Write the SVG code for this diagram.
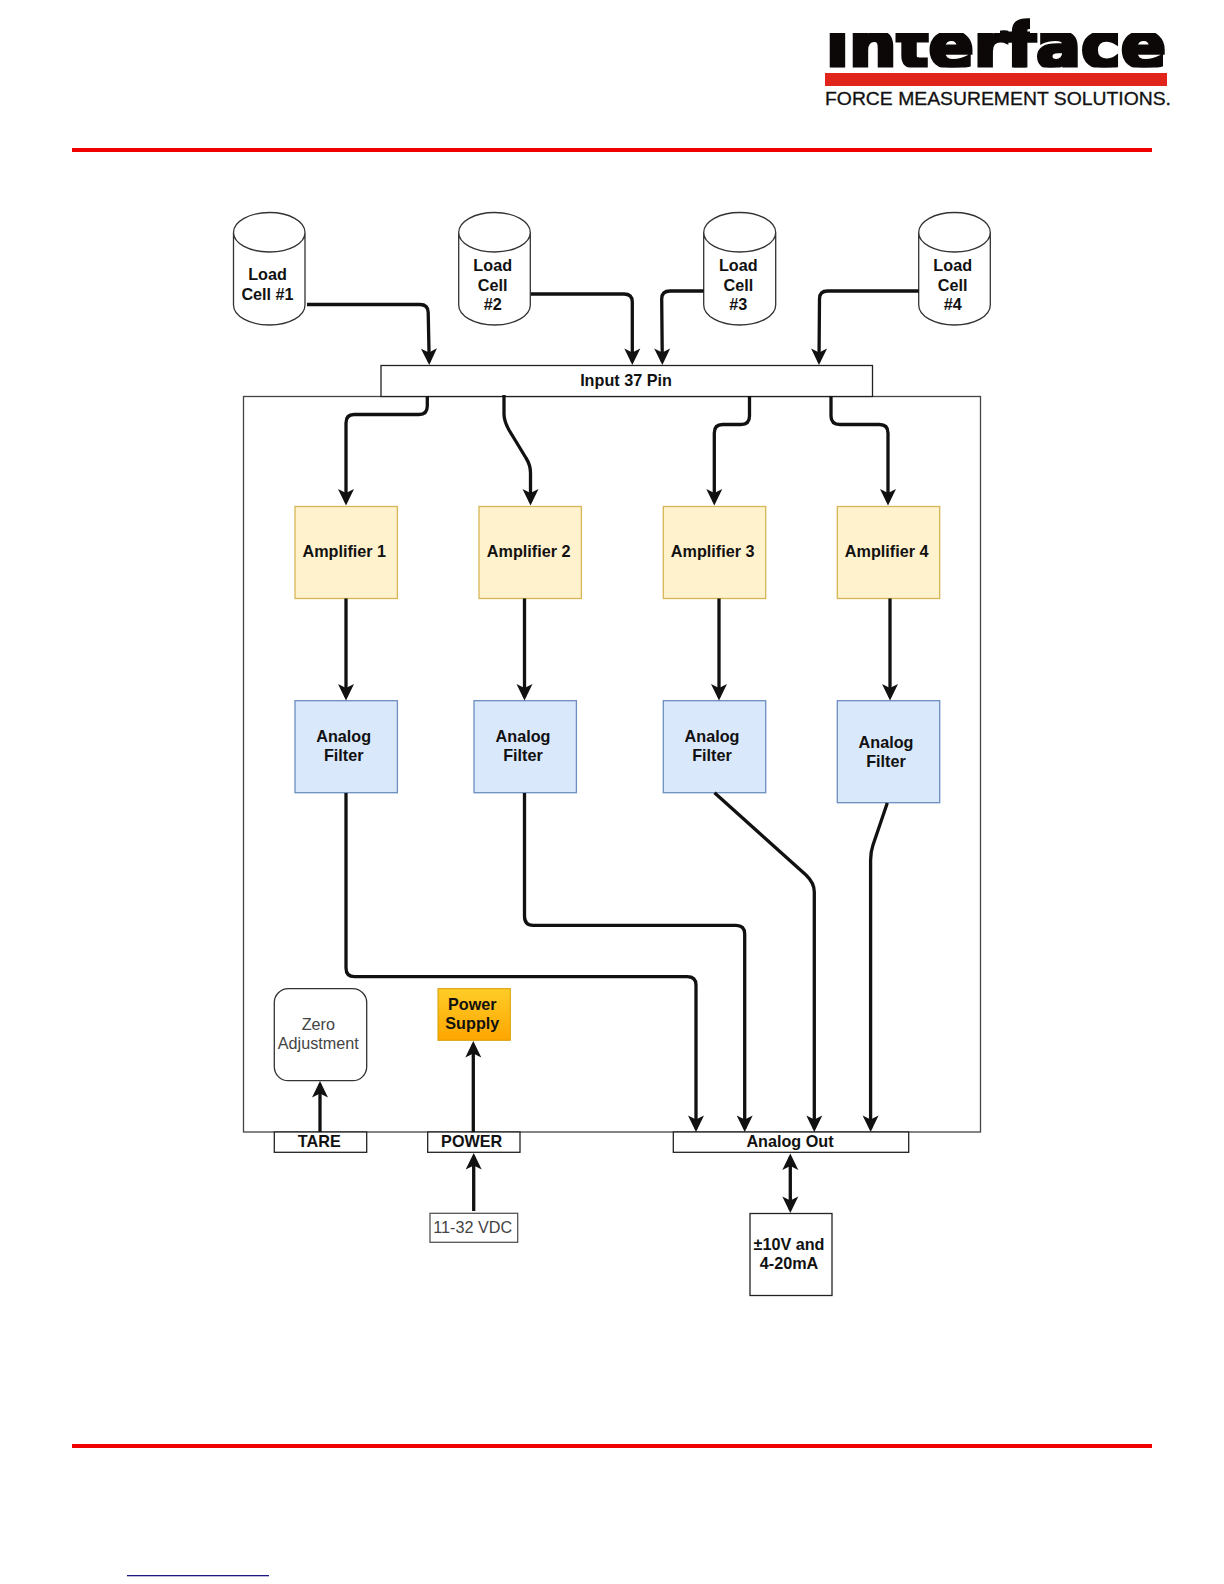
<svg xmlns="http://www.w3.org/2000/svg" width="1224" height="1584" viewBox="0 0 1224 1584">
<defs>
<marker id="arr" markerUnits="userSpaceOnUse" markerWidth="19" markerHeight="19" refX="13.5" refY="9" orient="auto-start-reverse"><path d="M0.5,1 L17,9 L0.5,17 L4.5,9 Z" fill="#111"/></marker>
<linearGradient id="ps" x1="0" y1="0" x2="0" y2="1"><stop offset="0" stop-color="#ffcd28"/><stop offset="1" stop-color="#ffa500"/></linearGradient>
<clipPath id="logoclip"><rect x="820" y="33" width="180" height="34.5"/><rect x="1000" y="18" width="30" height="49.5"/><rect x="1030" y="33" width="140" height="34.5"/></clipPath>
</defs>
<style>
text{font-family:"Liberation Sans",Arial,sans-serif;font-size:16.2px;font-weight:bold;fill:#111;text-anchor:middle}
.reg{font-weight:normal;fill:#444}
.box{fill:#fff;stroke:#222;stroke-width:1.3}
.amp{fill:#fff2cc;stroke:#d6b656;stroke-width:1.3}
.flt{fill:#dae8fc;stroke:#6c8ebf;stroke-width:1.3}
.cyl{fill:#fff;stroke:#333;stroke-width:1.3}
.c{fill:none;stroke:#111;stroke-width:3.3;marker-end:url(#arr)}
.rule{fill:#f10000}
</style>
<rect width="1224" height="1584" fill="#fff"/>
<g id="logo">
<text x="826" y="67" clip-path="url(#logoclip)" textLength="340" lengthAdjust="spacingAndGlyphs" style="font-family:'DejaVu Sans',sans-serif;font-size:62px;text-anchor:start;stroke:#0c0808;stroke-width:3.5;fill:#0c0808">interface</text>
<rect x="825" y="73" width="342" height="13" fill="#e1251b"/>
<text x="825" y="105" textLength="346" lengthAdjust="spacingAndGlyphs" style="font-size:18px;font-weight:normal;text-anchor:start;stroke:#111;stroke-width:0.3">FORCE MEASUREMENT SOLUTIONS.</text>
</g>
<rect class="rule" x="72" y="148" width="1080" height="4"/>
<rect class="rule" x="72" y="1444" width="1080" height="4"/>
<rect x="127" y="1575" width="142" height="1.3" fill="#1a1a80"/>
<g id="main-box"><rect x="243.5" y="396.5" width="737" height="735.5" fill="#fff" stroke="#444" stroke-width="1.3"/></g>
<g id="input-37-pin"><rect class="box" x="381" y="365.5" width="491.5" height="31"/><text x="626" y="385.7">Input 37 Pin</text></g>
<g id="load-cell-1"><path class="cyl" d="M233.5,232.5 C233.5,221.5 249.5,212.5 269.5,212.5 C289.5,212.5 305,221.5 305,232.5 L305,305 C305,316 289.5,325 269.5,325 C249.5,325 233.5,316 233.5,305 Z M233.5,232.5 C233.5,243.5 249.5,252 269.5,252 C289.5,252 305,243.5 305,232.5"/><text x="267.5" y="280.3">Load</text><text x="267.5" y="299.8">Cell #1</text></g>
<g id="load-cell-2"><path class="cyl" d="M458.7,232.5 C458.7,221.5 474.7,212.5 494.5,212.5 C514.5,212.5 530.3,221.5 530.3,232.5 L530.3,305 C530.3,316 514.5,325 494.5,325 C474.7,325 458.7,316 458.7,305 Z M458.7,232.5 C458.7,243.5 474.7,252 494.5,252 C514.5,252 530.3,243.5 530.3,232.5"/><text x="492.7" y="271.3">Load</text><text x="492.7" y="290.5">Cell</text><text x="492.7" y="309.5">#2</text></g>
<g id="load-cell-3"><path class="cyl" d="M703.7,232.5 C703.7,221.5 719.7,212.5 739.7,212.5 C759.7,212.5 775.7,221.5 775.7,232.5 L775.7,305 C775.7,316 759.7,325 739.7,325 C719.7,325 703.7,316 703.7,305 Z M703.7,232.5 C703.7,243.5 719.7,252 739.7,252 C759.7,252 775.7,243.5 775.7,232.5"/><text x="738.3" y="271.3">Load</text><text x="738.3" y="290.5">Cell</text><text x="738.3" y="309.5">#3</text></g>
<g id="load-cell-4"><path class="cyl" d="M918.7,232.5 C918.7,221.5 934.7,212.5 954.5,212.5 C974.5,212.5 990.3,221.5 990.3,232.5 L990.3,305 C990.3,316 974.5,325 954.5,325 C934.7,325 918.7,316 918.7,305 Z M918.7,232.5 C918.7,243.5 934.7,252 954.5,252 C974.5,252 990.3,243.5 990.3,232.5"/><text x="952.7" y="271.3">Load</text><text x="952.7" y="290.5">Cell</text><text x="952.7" y="309.5">#4</text></g>
<g id="amplifier-1"><rect class="amp" x="295" y="506.5" width="102.4" height="92"/><text x="344.3" y="557.3">Amplifier 1</text></g>
<g id="amplifier-2"><rect class="amp" x="479" y="506.5" width="102.4" height="92"/><text x="528.7" y="557.3">Amplifier 2</text></g>
<g id="amplifier-3"><rect class="amp" x="663.3" y="506.5" width="102.4" height="92"/><text x="712.7" y="557.3">Amplifier 3</text></g>
<g id="amplifier-4"><rect class="amp" x="837.3" y="506.5" width="102.4" height="92"/><text x="886.7" y="557.3">Amplifier 4</text></g>
<g id="filter-1"><rect class="flt" x="295" y="700.7" width="102.4" height="92"/><text x="343.7" y="742.4">Analog</text><text x="343.7" y="761.4">Filter</text></g>
<g id="filter-2"><rect class="flt" x="474" y="700.7" width="102.4" height="92"/><text x="523" y="742.4">Analog</text><text x="523" y="761.4">Filter</text></g>
<g id="filter-3"><rect class="flt" x="663.3" y="700.7" width="102.4" height="92"/><text x="712" y="742.4">Analog</text><text x="712" y="761.4">Filter</text></g>
<g id="filter-4"><rect class="flt" x="837.3" y="700.7" width="102.4" height="102"/><text x="886" y="747.5">Analog</text><text x="886" y="766.5">Filter</text></g>
<g id="zero-adjustment"><rect x="274.3" y="988.7" width="92.4" height="92" rx="14" fill="#fff" stroke="#333" stroke-width="1.3"/><text class="reg" x="318.3" y="1030">Zero</text><text class="reg" x="318.3" y="1049.3">Adjustment</text></g>
<g id="power-supply"><rect x="438" y="988.7" width="72.3" height="51.6" fill="url(#ps)" stroke="#d79b00" stroke-width="1"/><text x="472.3" y="1010">Power</text><text x="472.3" y="1029">Supply</text></g>
<g id="tare"><rect class="box" x="274.3" y="1132" width="92.4" height="20.3"/><text x="319.3" y="1146.5">TARE</text></g>
<g id="power"><rect class="box" x="427.7" y="1132" width="92.3" height="20.3"/><text x="471.7" y="1146.5">POWER</text></g>
<g id="analog-out"><rect class="box" x="673.3" y="1132" width="235.4" height="20.3"/><text x="790" y="1146.5">Analog Out</text></g>
<g id="vdc"><rect x="430" y="1213.3" width="87.7" height="29" fill="#fff" stroke="#555" stroke-width="1.3"/><text class="reg" x="472.7" y="1233">11-32 VDC</text></g>
<g id="output-range"><rect class="box" x="750" y="1213.5" width="82" height="82"/><text x="789" y="1250">±10V and</text><text x="789" y="1269.3">4-20mA</text></g>
<g id="connectors">
<path class="c" d="M307,304.5 H420 Q428,304.5 428.2,312.5 L429.2,361.5"/>
<path class="c" d="M531,294 H624 Q632.3,294 632.3,302 V361.5"/>
<path class="c" d="M703.7,291 H670 Q661.7,291 661.7,299 L662.3,361.5"/>
<path class="c" d="M918.7,291 H827.5 Q819.5,291 819.5,299 L819,361.5"/>
<path class="c" d="M427.3,396 V406 Q427.3,414.5 419,414.5 H354 Q346,414.5 346,423 V502"/>
<path class="c" d="M504,395 V414 Q504,421 509,430 L526,458 Q530.5,465 530.5,473 V502"/>
<path class="c" d="M749.5,396 V416 Q749.5,424.5 741,424.5 H722.5 Q714.3,424.5 714.3,433 V502"/>
<path class="c" d="M831,396 V416 Q831,424.5 840,424.5 H879.5 Q888,424.5 888,433 V502"/>
<path class="c" d="M346,598.5 V697"/>
<path class="c" d="M524.5,598.5 V697"/>
<path class="c" d="M719,598.5 V697"/>
<path class="c" d="M890,598.5 V697"/>
<path class="c" d="M346,793 V968 Q346,976.7 354.5,976.7 H687 Q696,976.7 696,985 V1128.5"/>
<path class="c" d="M524.5,793 V916 Q524.5,925.3 533,925.3 H736 Q744.7,925.3 744.7,934 V1128.5"/>
<path class="c" d="M714.5,792.8 L806,875 Q814.3,883 814.3,892 V1128.5"/>
<path class="c" d="M887.3,803 L873,845 Q870.6,852 870.6,860 V1128.5"/>
<path class="c" d="M320,1132 V1084.5"/>
<path class="c" d="M473.3,1132 V1044.5"/>
<path class="c" d="M473.7,1211 V1156.5"/>
<path class="c" d="M790.3,1157 V1209.5" style="marker-start:url(#arr)"/>
</g>
</svg>
